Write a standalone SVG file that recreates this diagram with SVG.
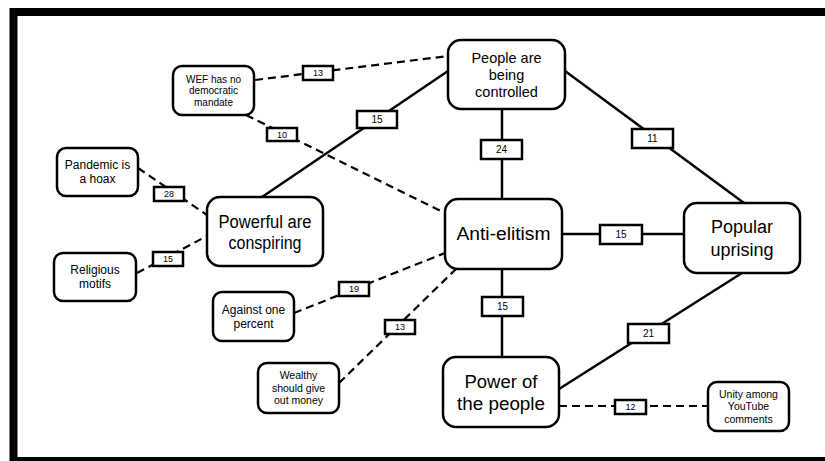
<svg xmlns="http://www.w3.org/2000/svg" width="825" height="461" viewBox="0 0 825 461">
<style>
text{font-family:"Liberation Sans",Arial,sans-serif;fill:#000;text-anchor:middle}
.node rect{fill:#fff;stroke:#000;stroke-width:2.5}
.lbl rect{fill:#fff;stroke:#000;stroke-width:2.5}
.lbl text{font-size:9px}
.lbl.big text{font-size:10px}
.solid{stroke:#000;stroke-width:2.5;fill:none}
.dash{stroke:#000;stroke-width:2.2;fill:none;stroke-dasharray:8 5}
.s10{font-size:10px}.s105{font-size:10.5px}.s12{font-size:12px}.s15{font-size:14.5px}.s20{font-size:18px}
</style>
<rect x="0" y="0" width="825" height="461" fill="#fff"/>
<path d="M13.5 470 V12 H830 M10 461 H830" stroke="#000" stroke-width="8" fill="none"/>
<g id="connectors">
<line class="dash" x1="255" y1="80" x2="448" y2="56"/>
<line class="solid" x1="262" y1="197" x2="448" y2="71"/>
<line class="dash" x1="246" y1="115" x2="445" y2="213"/>
<line class="dash" x1="138" y1="168" x2="207" y2="215"/>
<line class="dash" x1="137" y1="273" x2="207" y2="236"/>
<line class="dash" x1="294" y1="313" x2="445" y2="253"/>
<line class="dash" x1="339" y1="383" x2="456" y2="269"/>
<line class="solid" x1="502" y1="109" x2="502" y2="199"/>
<line class="solid" x1="565" y1="71" x2="744" y2="203"/>
<line class="solid" x1="562" y1="234" x2="684" y2="234"/>
<line class="solid" x1="502" y1="269" x2="502" y2="357"/>
<line class="solid" x1="742" y1="273" x2="559" y2="389"/>
<line class="dash" x1="559" y1="406" x2="708" y2="406"/>
<g class="lbl"><rect x="303" y="66" width="30" height="14"/><text x="318" y="76.3">13</text></g>
<g class="lbl big"><rect x="357" y="111" width="40" height="17"/><text x="377" y="123">15</text></g>
<g class="lbl"><rect x="267" y="128" width="30" height="13"/><text x="282" y="137.8">10</text></g>
<g class="lbl"><rect x="154" y="187" width="30" height="14"/><text x="169" y="197.3">28</text></g>
<g class="lbl"><rect x="153" y="252" width="30" height="14"/><text x="168" y="262.3">15</text></g>
<g class="lbl"><rect x="339" y="282" width="30" height="14"/><text x="354" y="292.3">19</text></g>
<g class="lbl"><rect x="385" y="320" width="30" height="14"/><text x="400" y="330.3">13</text></g>
<g class="lbl big"><rect x="481" y="140" width="41" height="19"/><text x="501.5" y="153">24</text></g>
<g class="lbl big"><rect x="632" y="129" width="41" height="19"/><text x="652.5" y="142">11</text></g>
<g class="lbl big"><rect x="600" y="225" width="42" height="19"/><text x="621" y="238">15</text></g>
<g class="lbl big"><rect x="482" y="297" width="41" height="19"/><text x="502.5" y="310">15</text></g>
<g class="lbl big"><rect x="628" y="324" width="41" height="19"/><text x="648.5" y="337">21</text></g>
<g class="lbl"><rect x="615" y="400" width="31" height="14"/><text x="630.5" y="410.3">12</text></g>
</g>
<g id="n-wef" class="node"><rect x="173" y="66" width="81" height="49" rx="9"/><text class="s10"><tspan x="213.5" y="82.5">WEF has no</tspan><tspan x="213.5" y="94">democratic</tspan><tspan x="213.5" y="105.5">mandate</tspan></text></g>
<g id="n-pandemic" class="node"><rect x="57" y="148" width="81" height="48" rx="9"/><text class="s12"><tspan x="97.5" y="169.2">Pandemic is</tspan><tspan x="97.5" y="183.2">a hoax</tspan></text></g>
<g id="n-powerful" class="node"><rect x="207" y="197" width="116" height="69" rx="13"/><text class="s20" x="265" y="227.8" textLength="93" lengthAdjust="spacingAndGlyphs">Powerful are</text><text class="s20" x="265" y="248.8" textLength="73" lengthAdjust="spacingAndGlyphs">conspiring</text></g>
<g id="n-religious" class="node"><rect x="54" y="253" width="82" height="48" rx="9"/><text class="s12"><tspan x="95" y="274.2">Religious</tspan><tspan x="95" y="288.2">motifs</tspan></text></g>
<g id="n-against" class="node"><rect x="213" y="292" width="81" height="49" rx="9"/><text class="s12"><tspan x="253.5" y="313.7">Against one</tspan><tspan x="253.5" y="327.7">percent</tspan></text></g>
<g id="n-wealthy" class="node"><rect x="258" y="363" width="81" height="50" rx="9"/><text class="s105"><tspan x="298.5" y="379.2">Wealthy</tspan><tspan x="298.5" y="391.7">should give</tspan><tspan x="298.5" y="404.2">out money</tspan></text></g>
<g id="n-people" class="node"><rect x="448" y="40" width="117" height="69" rx="13"/><text class="s15"><tspan x="506.5" y="63.1">People are</tspan><tspan x="506.5" y="80.1">being</tspan><tspan x="506.5" y="97.1">controlled</tspan></text></g>
<g id="n-anti" class="node"><rect x="445" y="199" width="117" height="70" rx="13"/><text class="s20" x="503.5" y="240.3" textLength="94" lengthAdjust="spacingAndGlyphs">Anti-elitism</text></g>
<g id="n-popular" class="node"><rect x="684" y="203" width="116" height="70" rx="13"/><text class="s20" x="742" y="233.3">Popular</text><text class="s20" x="742" y="256.3">uprising</text></g>
<g id="n-power" class="node"><rect x="443" y="357" width="116" height="70" rx="13"/><text class="s20" x="501" y="388.3" textLength="73" lengthAdjust="spacingAndGlyphs">Power of</text><text class="s20" x="501" y="410.3" textLength="88" lengthAdjust="spacingAndGlyphs">the people</text></g>
<g id="n-unity" class="node"><rect x="708" y="382" width="81" height="49" rx="9"/><text class="s105"><tspan x="748.5" y="397.7">Unity among</tspan><tspan x="748.5" y="410.2">YouTube</tspan><tspan x="748.5" y="422.7">comments</tspan></text></g>
</svg>
